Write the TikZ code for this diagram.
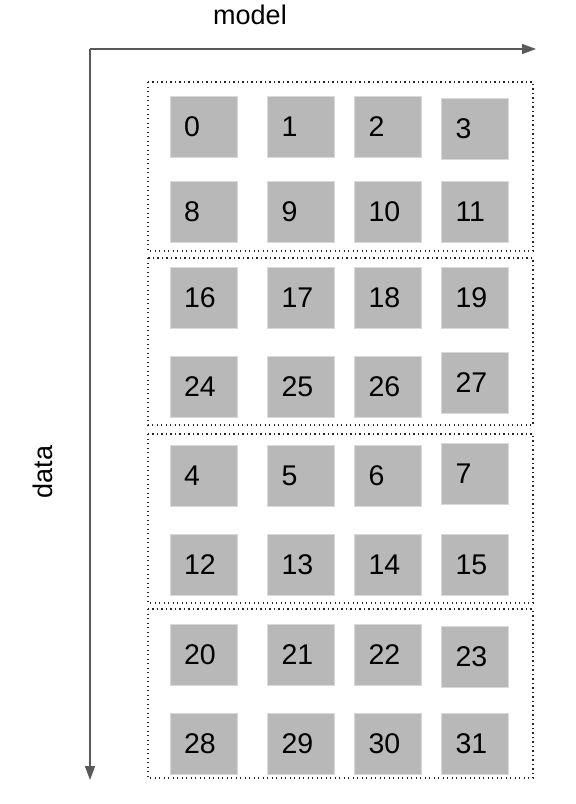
\documentclass[tikz,border=0pt]{standalone}
\usepackage{fontspec}
\setmainfont{Liberation Sans}
\usetikzlibrary{arrows.meta}

\tikzset{
  axis/.style={draw=black!65, line width=1.2pt, -{Triangle[length=14pt,width=10pt]}},
  groupbox/.style={draw=black!85, line width=1.3pt, dash pattern=on 1.3pt off 3.2pt},
  proc/.style={rectangle, fill=black!28, draw=black!15, line width=0.6pt,
    minimum width=67pt, minimum height=61pt, inner xsep=14pt, inner ysep=0pt,
    text width=39pt, align=left, font=\fontsize{28.5}{30}\selectfont},
  axislabel/.style={font=\fontsize{27}{30}\selectfont}
}

\begin{document}
\begin{tikzpicture}[x=1pt, y=-1pt]
  \useasboundingbox (0,0) rectangle (576,804);
  % axes
  \coordinate (o) at (90,49);
  \coordinate (m) at (536,49);
  \coordinate (d) at (90,780);
  \draw[axis] (o) -- (m);
  \draw[axis] (o) -- (d);
  \node[axislabel, anchor=base] (model) at (250,24) {model};
  \node[axislabel, anchor=base, rotate=90] (data) at (52,472) {data};
  % dotted groups
  \foreach \t/\b in {82/251, 258/425, 434/603, 609/778}
    \draw[groupbox] (148,\t) rectangle (533,\b);
  % processes
  \foreach \base/\y in {0/126.5, 8/211.5, 16/297.5, 24/386.5, 4/475.5, 12/564.5, 20/654.5, 28/744}
    \foreach \c/\x in {0/203.5, 1/301, 2/388, 3/475} {
      \pgfmathtruncatemacro{\n}{\base+\c}
      \pgfmathsetmacro{\dy}{(\n==3)*2-(\n==27)*4-(\n==7)*2+(\n==23)*2}
      \node[proc] (p\n) at (\x,\y+\dy) {\raisebox{-1.5pt}{\n}};
    }
\end{tikzpicture}
\end{document}
